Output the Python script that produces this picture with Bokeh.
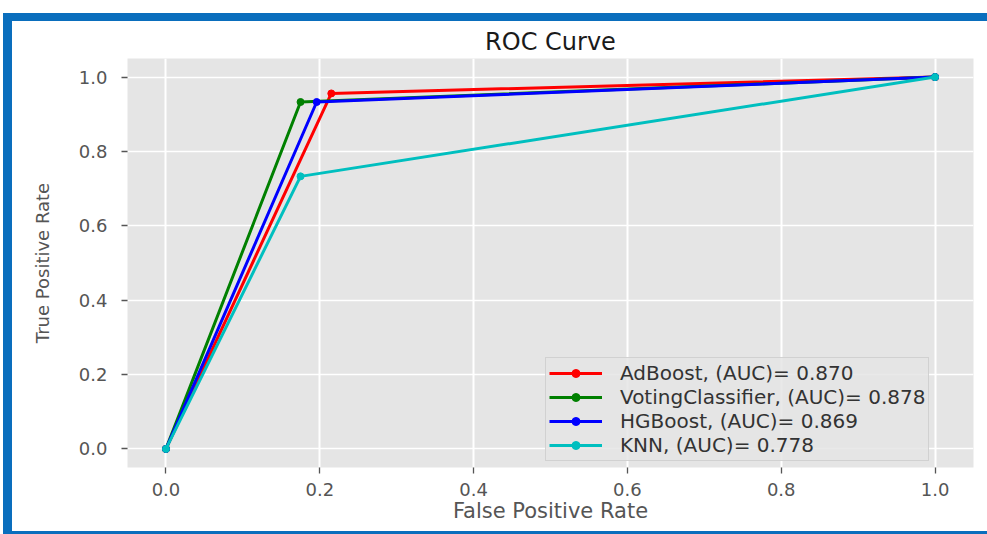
from bokeh.plotting import figure
from bokeh.models import Range1d, FixedTicker
from bokeh.embed import file_html
from bokeh.resources import INLINE

# ---- data ----
fpr_ada = [0.0, 0.215, 1.0]
tpr_ada = [0.0, 0.956, 1.0]
fpr_vot = [0.0, 0.175, 1.0]
tpr_vot = [0.0, 0.933, 1.0]
fpr_hgb = [0.0, 0.196, 1.0]
tpr_hgb = [0.0, 0.933, 1.0]
fpr_knn = [0.0, 0.175, 1.0]
tpr_knn = [0.0, 0.733, 1.0]

series_labels = ["AdBoost, (AUC)= 0.870", "VotingClassifier, (AUC)= 0.878",
                 "HGBoost, (AUC)= 0.869", "KNN, (AUC)= 0.778"]
series_colors = ["#ff0000", "#008000", "#0000ff", "#00bfbf"]

tick_values = [0.0, 0.2, 0.4, 0.6, 0.8, 1.0]
tick_labels = ["0.0", "0.2", "0.4", "0.6", "0.8", "1.0"]

FRAME = "#0a6ebd"

p = figure(width=984, height=521,
           x_range=Range1d(-0.05, 1.05), y_range=Range1d(-0.05, 1.05),
           output_backend="svg", toolbar_location=None,
           min_border_left=115, min_border_right=23,
           min_border_top=37, min_border_bottom=75,
           background_fill_color="#e5e5e5", border_fill_color="white",
           outline_line_color=None,
           margin=(13, 0, 0, 3),
           styles={"border-top": f"8px solid {FRAME}",
                   "border-left": f"9px solid {FRAME}",
                   "border-bottom": f"3px solid {FRAME}"})

p.title.text = "ROC Curve"
p.title.align = "center"
p.title.text_font = "DejaVu Sans"
p.title.text_font_size = "24px"
p.title.text_font_style = "normal"
p.title.text_color = "#1a1a1a"
p.title.standoff = 6

xs_all = [fpr_ada, fpr_vot, fpr_hgb, fpr_knn]
ys_all = [tpr_ada, tpr_vot, tpr_hgb, tpr_knn]
for xs, ys, lab, col in zip(xs_all, ys_all, series_labels, series_colors):
    p.line(xs, ys, line_color=col, line_width=3, legend_label=lab)
    p.scatter(xs, ys, marker="circle", size=7, fill_color=col, line_color=col,
              legend_label=lab)

for ax in (p.xaxis[0], p.yaxis[0]):
    ax.ticker = FixedTicker(ticks=tick_values)
    ax.major_label_overrides = {v: t for v, t in zip(tick_values, tick_labels)}
    ax.axis_line_color = None
    ax.major_tick_line_color = "#555555"
    ax.major_tick_line_width = 1.3
    ax.major_tick_out = 6
    ax.major_tick_in = 0
    ax.minor_tick_line_color = None
    ax.major_label_text_font = "DejaVu Sans"
    ax.major_label_text_font_size = "18px"
    ax.major_label_text_color = "#555555"
    ax.axis_label_text_font = "DejaVu Sans"
    ax.axis_label_text_font_style = "normal"
    ax.axis_label_text_color = "#555555"

p.xaxis.axis_label = "False Positive Rate"
p.yaxis.axis_label = "True Positive Rate"
p.xaxis.axis_label_text_font_size = "21px"
p.yaxis.axis_label_text_font_size = "18px"
p.xaxis.major_label_standoff = 9
p.xaxis.axis_label_standoff = 0
p.yaxis.major_label_standoff = 14
p.yaxis.axis_label_standoff = 23

p.grid.grid_line_color = "white"
p.xgrid.grid_line_width = 2
p.ygrid.grid_line_width = 1.6
p.xgrid.ticker = FixedTicker(ticks=tick_values)
p.ygrid.ticker = FixedTicker(ticks=tick_values)

lg = p.legend[0]
lg.location = (418, 6)
lg.padding = 3
lg.spacing = 0
lg.glyph_width = 53
lg.glyph_height = 20
lg.label_height = 20
lg.label_standoff = 18
lg.label_text_font = "DejaVu Sans"
lg.label_text_font_size = "20px"
lg.label_text_color = "#333333"
lg.background_fill_color = "#e5e5e5"
lg.background_fill_alpha = 0.85
lg.border_line_color = "#cccccc"
lg.border_line_alpha = 0.8

open("out.html", "w").write(file_html(p, INLINE))
